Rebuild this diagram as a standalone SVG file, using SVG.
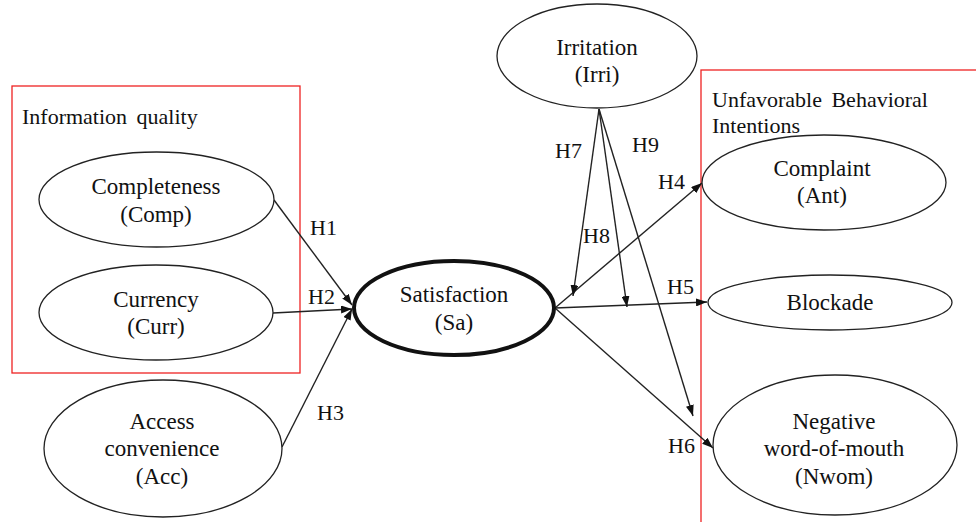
<svg xmlns="http://www.w3.org/2000/svg" width="976" height="522" viewBox="0 0 976 522" font-family="'Liberation Serif', 'DejaVu Serif', serif">
<style>
text{font-family:'Liberation Serif','DejaVu Serif',serif;font-size:22px;fill:#111;}
.c{text-anchor:middle;font-size:23px;}
.n{fill:#fff;stroke:#222;stroke-width:1.3;}
.box{fill:none;stroke:#ee2222;stroke-width:1.3;}
.e{stroke:#222;stroke-width:1.4;fill:none;marker-end:url(#ah);}
</style>
<defs>
<marker id="ah" markerUnits="userSpaceOnUse" markerWidth="11" markerHeight="8" refX="11" refY="4" orient="auto">
<path d="M0,0 L11,4 L0,8 z" fill="#111"/>
</marker>
</defs>
<rect class="box" x="12" y="86" width="288" height="287"/>
<rect class="box" x="701" y="70" width="300" height="470"/>
<text x="22" y="124" word-spacing="4">Information quality</text>
<text x="712" y="107" word-spacing="4">Unfavorable Behavioral</text>
<text x="712" y="133">Intentions</text>
<g id="connectors">
<line class="e" x1="274" y1="200" x2="352" y2="305"/>
<line class="e" x1="273" y1="313" x2="352" y2="309"/>
<line class="e" x1="282" y1="447" x2="352" y2="309"/>
<line class="e" x1="555" y1="308" x2="702" y2="183"/>
<line class="e" x1="555" y1="308" x2="707" y2="302"/>
<line class="e" x1="555" y1="308" x2="713" y2="448"/>
<line class="e" x1="599" y1="109" x2="573" y2="296"/>
<line class="e" x1="599" y1="109" x2="627" y2="307"/>
<line class="e" x1="599" y1="109" x2="693" y2="416"/>
<text x="310" y="235">H1</text>
<text x="308" y="304">H2</text>
<text x="317" y="420">H3</text>
<text x="658" y="189">H4</text>
<text x="667" y="294">H5</text>
<text x="668" y="453">H6</text>
<text x="555" y="158">H7</text>
<text x="583" y="243">H8</text>
<text x="632" y="152">H9</text>
</g>
<g id="comp">
<ellipse class="n" cx="156.5" cy="199.5" rx="117.5" ry="47.5"/>
<text class="c" x="156" y="194">Completeness</text>
<text class="c" x="156" y="222">(Comp)</text>
</g>
<g id="curr">
<ellipse class="n" cx="156" cy="312.5" rx="117" ry="47.5"/>
<text class="c" x="156" y="307">Currency</text>
<text class="c" x="156" y="334">(Curr)</text>
</g>
<g id="acc">
<ellipse class="n" cx="163" cy="448.5" rx="119" ry="68.5"/>
<text class="c" x="162" y="429">Access</text>
<text class="c" x="162" y="456">convenience</text>
<text class="c" x="162" y="484">(Acc)</text>
</g>
<g id="sa">
<ellipse cx="454" cy="308" rx="100" ry="47" fill="#fff" stroke="#111" stroke-width="4"/>
<text class="c" x="454" y="302">Satisfaction</text>
<text class="c" x="454" y="330">(Sa)</text>
</g>
<g id="irri">
<ellipse class="n" cx="597" cy="56" rx="100" ry="52"/>
<text class="c" x="597" y="55">Irritation</text>
<text class="c" x="597" y="82">(Irri)</text>
</g>
<g id="ant">
<ellipse class="n" cx="824" cy="182.5" rx="122" ry="47.5"/>
<text class="c" x="822" y="176">Complaint</text>
<text class="c" x="822" y="203">(Ant)</text>
</g>
<g id="block">
<ellipse class="n" cx="830" cy="302.5" rx="122" ry="27.5"/>
<text class="c" x="830" y="310">Blockade</text>
</g>
<g id="nwom">
<ellipse class="n" cx="835" cy="445" rx="122" ry="70"/>
<text class="c" x="834" y="429">Negative</text>
<text class="c" x="834" y="456">word-of-mouth</text>
<text class="c" x="834" y="484">(Nwom)</text>
</g>
</svg>
